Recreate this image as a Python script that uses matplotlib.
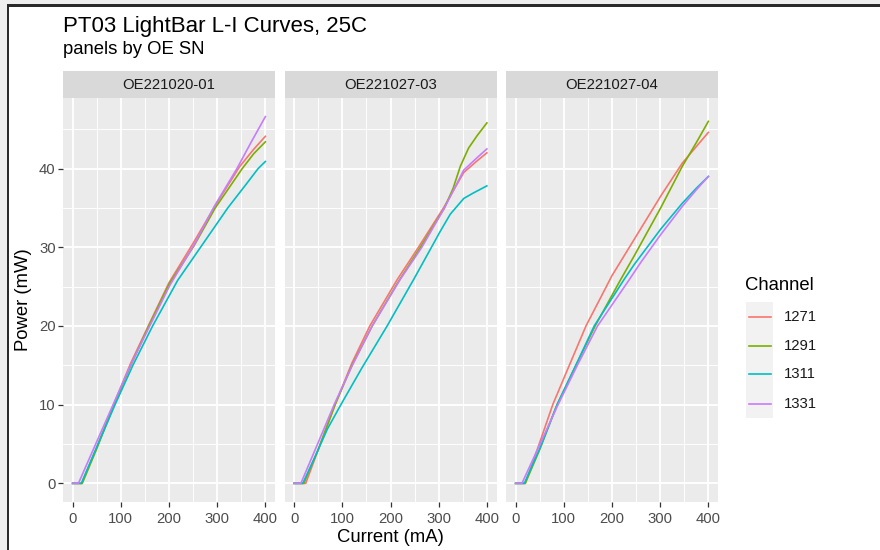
import matplotlib
matplotlib.use('Agg')

import matplotlib.pyplot as plt
from matplotlib.patches import Rectangle
from matplotlib.lines import Line2D

plt.rcParams['font.family'] = ['Liberation Sans', 'DejaVu Sans']

panels = ["OE221020-01", "OE221027-03", "OE221027-04"]
channels = ["1271", "1291", "1311", "1331"]
colors = ["#F8766D", "#7CAE00", "#00BFC4", "#C77CFF"]

x_ticks = [0, 100, 200, 300, 400]
y_ticks = [0, 10, 20, 30, 40]

# OE221020-01
oe01_ma_1271 = [0, 19, 50, 85, 120, 157, 200, 250, 295, 346, 375, 400]
oe01_mw_1271 = [0, 0, 4.6, 10, 15.2, 20, 25.5, 30.5, 35.2, 40.2, 42.4, 44.1]
oe01_ma_1291 = [0, 20, 50, 86, 120, 158, 200, 252, 296, 352, 376, 400]
oe01_mw_1291 = [0, 0, 4.4, 10, 14.9, 20, 25.3, 30.2, 35.0, 40.0, 41.9, 43.4]
oe01_ma_1311 = [0, 18, 50, 88, 125, 166, 218, 270, 322, 360, 385, 400]
oe01_mw_1311 = [0, 0, 4.6, 10, 15.0, 20, 25.8, 30.4, 35.0, 38.0, 40.0, 40.9]
oe01_ma_1331 = [0, 12, 50, 84, 120, 160, 202, 252, 294, 341, 370, 400]
oe01_mw_1331 = [0, 0, 5.3, 10, 15.0, 20, 25.2, 30.3, 35.2, 40.0, 43.3, 46.6]

# OE221027-03
oe03_ma_1271 = [0, 24, 55, 85, 120, 157, 214, 258, 310, 352, 380, 400]
oe03_mw_1271 = [0, 0, 5.1, 10, 15.3, 20, 25.9, 30.0, 35.0, 39.5, 41.0, 42.0]
oe03_ma_1291 = [0, 20, 50, 85, 120, 162, 215, 262, 312, 330, 345, 362, 380, 400]
oe03_mw_1291 = [0, 0, 4.3, 10, 15.0, 20, 25.5, 30.0, 35.0, 37.5, 40.3, 42.6, 44.2, 45.8]
oe03_ma_1311 = [0, 18, 45, 69, 97, 140, 193, 248, 276, 303, 324, 352, 372, 400]
oe03_mw_1311 = [0, 0, 3.6, 6.9, 10, 14.6, 20, 25.9, 29.0, 32.0, 34.2, 36.2, 36.9, 37.8]
oe03_ma_1331 = [0, 14, 50, 83, 120, 162, 220, 265, 312, 352, 380, 400]
oe03_mw_1331 = [0, 0, 5.2, 10, 14.9, 20, 25.9, 30.0, 35.0, 39.8, 41.4, 42.5]

# OE221027-04
oe04_ma_1271 = [0, 20, 50, 77, 110, 146, 200, 246, 301, 346, 375, 400]
oe04_mw_1271 = [0, 0, 5.2, 10, 14.8, 20, 26.4, 31.0, 36.5, 40.7, 42.8, 44.6]
oe04_ma_1291 = [0, 20, 50, 86, 125, 165, 218, 246, 301, 346, 375, 400]
oe04_mw_1291 = [0, 0, 4.3, 10, 15.0, 20, 25.9, 28.9, 35.0, 40.3, 43.3, 46.0]
oe04_ma_1311 = [0, 18, 50, 86, 125, 163, 225, 246, 301, 346, 375, 400]
oe04_mw_1311 = [0, 0, 4.4, 10, 15.0, 20, 25.9, 27.8, 32.3, 35.6, 37.5, 39.0]
oe04_ma_1331 = [0, 13, 50, 88, 128, 170, 236, 260, 301, 346, 375, 400]
oe04_mw_1331 = [0, 0, 4.9, 10, 15.0, 20, 25.9, 28.1, 31.6, 35.2, 37.3, 39.0]

series = [
    [(oe01_ma_1271, oe01_mw_1271), (oe01_ma_1291, oe01_mw_1291),
     (oe01_ma_1311, oe01_mw_1311), (oe01_ma_1331, oe01_mw_1331)],
    [(oe03_ma_1271, oe03_mw_1271), (oe03_ma_1291, oe03_mw_1291),
     (oe03_ma_1311, oe03_mw_1311), (oe03_ma_1331, oe03_mw_1331)],
    [(oe04_ma_1271, oe04_mw_1271), (oe04_ma_1291, oe04_mw_1291),
     (oe04_ma_1311, oe04_mw_1311), (oe04_ma_1331, oe04_mw_1331)],
]

W, H = 880, 550
fig = plt.figure(figsize=(W / 100, H / 100), dpi=100)
fig.patch.set_facecolor('white')

# ggplot-like 5% expansion
all_mw = [v for p in series for s in p for v in s[1]]
ymin, ymax = min(all_mw), max(all_mw)
ypad = (ymax - ymin) * 0.05
xpad = (x_ticks[-1] - x_ticks[0]) * 0.05

panel_left = [63, 284.5, 506]
panel_w = 212
panel_top, panel_bot = 98.3, 501.7
strip_top = 71

for i, name in enumerate(panels):
    ax = fig.add_axes([panel_left[i] / W, 1 - panel_bot / H, panel_w / W, (panel_bot - panel_top) / H])
    ax.set_facecolor('#EBEBEB')
    for sp in ax.spines.values():
        sp.set_visible(False)
    ax.set_xlim(x_ticks[0] - xpad, x_ticks[-1] + xpad)
    ax.set_ylim(ymin - ypad, ymax + ypad)
    ax.set_xticks(x_ticks)
    ax.set_yticks(y_ticks)
    ax.set_xticks([50, 150, 250, 350], minor=True)
    ax.set_yticks([5, 15, 25, 35, 45], minor=True)
    ax.grid(which='major', color='white', linewidth=1.3)
    ax.grid(which='minor', color='white', linewidth=0.65)
    ax.set_axisbelow(True)
    ax.tick_params(which='major', direction='out', length=3.3, width=0.9, color='#333333',
                   labelsize=10.7, labelcolor='#4D4D4D', pad=2)
    ax.tick_params(axis='x', pad=4)
    ax.tick_params(which='minor', length=0)
    if i > 0:
        ax.tick_params(axis='y', labelleft=False, length=0)
    for (xs, ys), c in zip(series[i], colors):
        ax.plot(xs, ys, color=c, linewidth=1.2)

    sax = fig.add_axes([panel_left[i] / W, 1 - panel_top / H, panel_w / W, (panel_top - strip_top) / H])
    sax.set_facecolor('#D9D9D9')
    sax.set_xticks([])
    sax.set_yticks([])
    for sp in sax.spines.values():
        sp.set_visible(False)
    sax.text(0.5, 0.5, name, ha='center', va='center', fontsize=10.7, color='#1A1A1A',
             transform=sax.transAxes)

# titles
fig.text(63 / W, 1 - 31.7 / H, "PT03 LightBar L-I Curves, 25C", fontsize=16, ha='left', va='baseline')
fig.text(63 / W, 1 - 54 / H, "panels by OE SN", fontsize=13.3, ha='left', va='baseline')
fig.text(390 / W, 1 - 537 / H, "Current (mA)", fontsize=13.3, ha='center', va='center')
fig.text(24 / W, 1 - 300 / H, "Power (mW)", fontsize=13.3, ha='center', va='center', rotation=90)

# legend
fig.text(745 / W, 1 - 285 / H, "Channel", fontsize=13.3, ha='left', va='center')
fig.add_artist(Rectangle((746 / W, 1 - 418 / H), 27 / W, (418 - 301.7) / H,
                         transform=fig.transFigure, facecolor='#F2F2F2', edgecolor='none'))
key_y = [316.7, 345.7, 374.3, 404.3]
for ch, c, ky in zip(channels, colors, key_y):
    fig.add_artist(Line2D([749 / W, 771 / W], [1 - ky / H, 1 - ky / H], color=c, linewidth=1.2,
                          transform=fig.transFigure))
    fig.text(784 / W, 1 - ky / H, ch, fontsize=10.7, ha='left', va='center', color='#1A1A1A')

# screenshot frame
fig.add_artist(Rectangle((0, 0), 7.5 / W, 1, transform=fig.transFigure, facecolor='#EEEEEE', edgecolor='none'))
fig.add_artist(Rectangle((0, 1 - 4 / H), 1, 4 / H, transform=fig.transFigure, facecolor='#EEEEEE', edgecolor='none'))
fig.add_artist(Rectangle((7.3 / W, 0), 2 / W, 1 - 4 / H, transform=fig.transFigure, facecolor='#2A2A2A', edgecolor='none'))
fig.add_artist(Rectangle((7.3 / W, 1 - 6.7 / H), 1, 2.7 / H, transform=fig.transFigure, facecolor='#2A2A2A', edgecolor='none'))

plt.savefig('out.png', dpi=100)
plt.close()
